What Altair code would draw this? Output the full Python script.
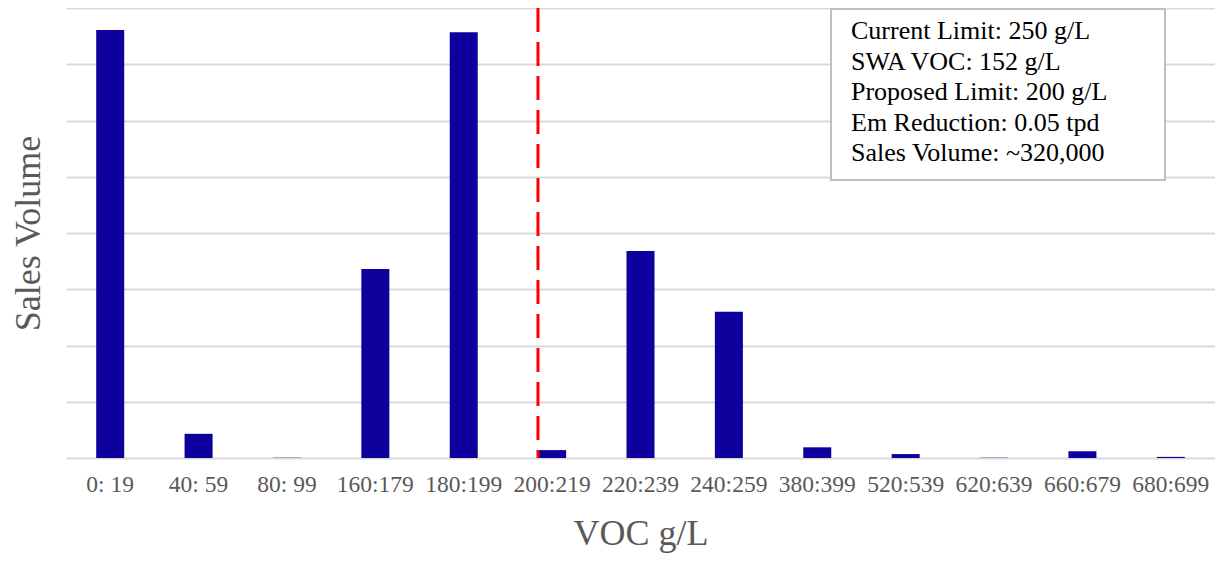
import altair as alt
import pandas as pd

categories = ["0: 19", "40: 59", "80: 99", "160:179", "180:199", "200:219", "220:239",
              "240:259", "380:399", "520:539", "620:639", "660:679", "680:699"]
sales = [7.61, 0.43, 0.005, 3.36, 7.57, 0.14, 3.68, 2.60, 0.19, 0.07, 0.005, 0.12, 0.02]
limit_category = ["200:219"]
note_lines = ["Current Limit: 250 g/L", "SWA VOC: 152 g/L", "Proposed Limit: 200 g/L",
              "Em Reduction: 0.05 tpd", "Sales Volume: ~320,000"]

df = pd.DataFrame({"cat": categories, "v": sales})
lim = pd.DataFrame({"cat": limit_category})
note = pd.DataFrame({"t": ["\n".join(note_lines)]})

FONT = "Liberation Serif"
W, H = 1149, 450

xenc = alt.X("cat:N", sort=categories, title="VOC g/L",
             scale=alt.Scale(paddingInner=0, paddingOuter=0),
             axis=alt.Axis(labelAngle=0, domain=False, ticks=False, labelPadding=14,
                           labelFont=FONT, labelFontSize=23.5, labelColor="#595959",
                           titleFont=FONT, titleFontSize=36, titleColor="#595959",
                           titleFontWeight="normal", titlePadding=21))

bars = alt.Chart(df).mark_bar(size=28, color="#0E009C").encode(
    x=xenc,
    y=alt.Y("v:Q", title="Sales Volume",
            scale=alt.Scale(domain=[0, 8], nice=False),
            axis=alt.Axis(values=list(range(9)), labels=False, ticks=False, domain=False,
                          grid=True, gridColor="#d9d9d9", gridWidth=2,
                          titleFont=FONT, titleFontSize=36, titleColor="#595959",
                          titleFontWeight="normal", titlePadding=19)),
)

rule = alt.Chart(lim).mark_rule(color="#ff0000", strokeWidth=3, strokeDash=[24, 10]).encode(
    x=alt.X("cat:N", sort=categories, bandPosition=0.34),
    y=alt.value(0),
    y2=alt.value(H),
)

box = alt.Chart(note).mark_rect(fill="white", stroke="#bfbfbf", strokeWidth=2).encode(
    x=alt.value(765), x2=alt.value(1099), y=alt.value(1), y2=alt.value(172)
)

txt = alt.Chart(note).mark_text(align="left", baseline="top", font=FONT, fontSize=26,
                                lineBreak="\n", lineHeight=30.5, color="black").encode(
    x=alt.value(785), y=alt.value(10), text="t:N"
)

chart = alt.layer(bars, rule, box, txt).properties(
    width=W, height=H,
    autosize=alt.AutoSizeParams(type="none"),
    padding={"left": 58, "right": 0, "top": 0, "bottom": 98},
).configure_view(stroke=None)

chart.save("out.html", embed_options={"renderer": "svg", "actions": False})
